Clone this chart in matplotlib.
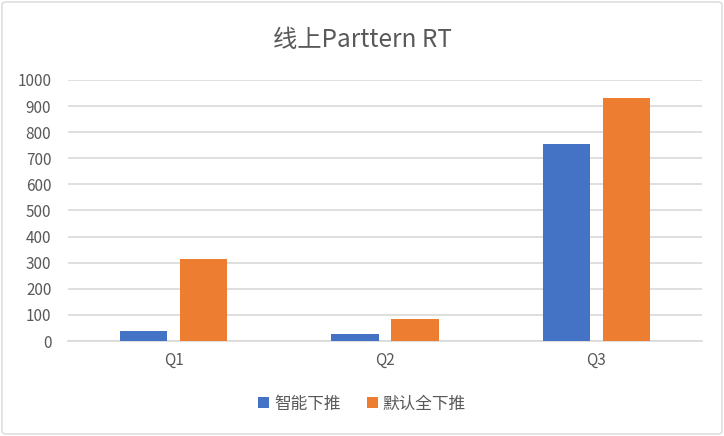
import numpy as np
import matplotlib
matplotlib.use("Agg")
import matplotlib.pyplot as plt
from matplotlib.patches import FancyBboxPatch

plt.rcParams['font.family'] = ['Noto Sans CJK SC', 'DejaVu Sans']

categories = ['Q1', 'Q2', 'Q3']
smart_push = [39, 28, 756]        # 智能下推
default_push = [314, 85, 930]     # 默认全下推
series_names = ['智能下推', '默认全下推']
yticks = [0, 100, 200, 300, 400, 500, 600, 700, 800, 900, 1000]

blue = '#4472C4'
orange = '#ED7D31'
text_grey = '#595959'
grid_grey = '#D9D9D9'

fig = plt.figure(figsize=(7.24, 4.36), dpi=100)
ax = fig.add_axes([68 / 724, 1 - 341 / 436, 634 / 724, 261 / 436])

x = np.arange(len(categories))
width = 0.223
offset = 0.142
ax.bar(x - offset, smart_push, width, color=blue, label=series_names[0], zorder=3)
ax.bar(x + offset, default_push, width, color=orange, label=series_names[1], zorder=3)

ax.set_xlim(-0.5, len(categories) - 0.5)
ax.set_ylim(0, 1000)
ax.set_yticks(yticks)
ax.set_xticks(x)
ax.set_xticklabels(categories)
ax.yaxis.grid(True, color=grid_grey, linewidth=1.2, zorder=0)
ax.tick_params(axis='both', length=0, labelsize=11, colors=text_grey)
ax.tick_params(axis='y', pad=12)
ax.tick_params(axis='x', pad=8)
for s in ['top', 'right', 'left']:
    ax.spines[s].set_visible(False)
ax.spines['bottom'].set_color(grid_grey)
ax.spines['bottom'].set_linewidth(1.2)

fig.text(0.5, 1 - 40 / 436, '线上Parttern RT', ha='center', va='center',
         fontsize=17.5, color=text_grey)

fig.legend(loc='center', bbox_to_anchor=(0.5, 1 - 404 / 436), ncol=2,
           frameon=False, fontsize=12, handlelength=0.65, handleheight=0.65,
           handletextpad=0.3, columnspacing=1.6, labelcolor=text_grey)

border = FancyBboxPatch((2 / 724, 2 / 436), 1 - 4 / 724, 1 - 4 / 436,
                        boxstyle='round,pad=0,rounding_size=0.006',
                        transform=fig.transFigure, fill=False,
                        edgecolor='#D9D9D9', linewidth=1)
fig.patches.append(border)

fig.savefig('out.png', dpi=100)
